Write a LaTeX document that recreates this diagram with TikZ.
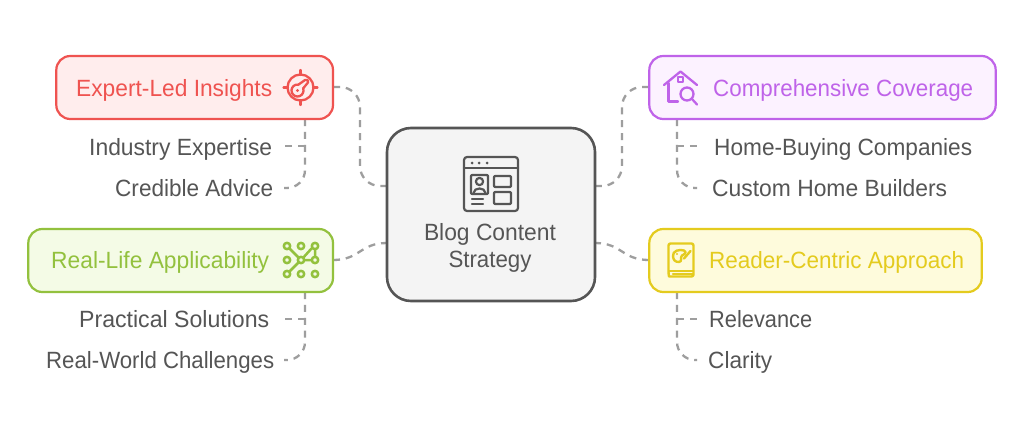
\documentclass[tikz,border=0pt]{standalone}
\usepackage{fontspec}
\usepackage{graphicx}
\setmainfont{Liberation Sans}
\definecolor{cred}{HTML}{EF5350}\definecolor{fred}{HTML}{FFEDED}
\definecolor{cpur}{HTML}{BF63E9}\definecolor{fpur}{HTML}{FCF2FF}
\definecolor{cgrn}{HTML}{93C13E}\definecolor{fgrn}{HTML}{F4FBE6}
\definecolor{cyel}{HTML}{E4CB1E}\definecolor{fyel}{HTML}{FEFBDC}
\definecolor{ctxt}{HTML}{555555}\definecolor{cdash}{HTML}{9E9E9E}
\newcommand{\fitw}[2]{\resizebox{#1pt}{\height}{#2}}
\tikzset{
 x=1pt,y=-1pt,
 boxnode/.style={draw=#1,line width=2.2pt,rounded corners=14pt,inner sep=0pt},
 lab/.style={anchor=base west,inner sep=0pt,text=#1,font=\fontsize{23.5}{27}\selectfont},
 sublab/.style={anchor=base west,inner sep=0pt,text=ctxt,font=\fontsize{23.5}{27}\selectfont},
 conn/.style={draw=cdash,line width=2.3pt,dash pattern=on 7pt off 5.9pt},
 ic/.style={line width=#1,line cap=round,line join=round},
 ic/.default=2.3pt,
}
\begin{document}
\begin{tikzpicture}
\useasboundingbox (0,0) rectangle (1024,431);
\fill[white] (0,0) rectangle (1024,431);
% connectors first
\coordinate (rs) at (333,87);\coordinate (cl1) at (387,186);
\coordinate (gs) at (333,260);\coordinate (cl2) at (387,243);
\coordinate (ps) at (649,87);\coordinate (cr1) at (595,186);
\coordinate (ys) at (649,260);\coordinate (cr2) at (595,243);
\draw[conn,rounded corners=20pt] (rs) -- (360,87) -- (360,186) -- (cl1);
\draw[conn,rounded corners=20pt] (ps) -- (622,87) -- (622,186) -- (cr1);
\draw[conn] (gs) .. controls (360,260) and (360,243) .. (cl2);
\draw[conn] (ys) .. controls (622,260) and (622,243) .. (cr2);
\coordinate (r1) at (284,146);\coordinate (r2) at (284,188);
\coordinate (g1) at (284,319);\coordinate (g2) at (284,360);
\coordinate (p1) at (697,146);\coordinate (p2) at (697,188);
\coordinate (y1) at (697,319);\coordinate (y2) at (697,360);
\draw[conn,rounded corners=18pt] (305,119) -- (305,188) -- (r2);
\draw[conn] (305,146) -- (r1);
\draw[conn,rounded corners=18pt] (305,292) -- (305,360) -- (g2);
\draw[conn] (305,319) -- (g1);
\draw[conn,rounded corners=18pt] (677,119) -- (677,188) -- (p2);
\draw[conn] (677,146) -- (p1);
\draw[conn,rounded corners=18pt] (677,292) -- (677,360) -- (y2);
\draw[conn] (677,319) -- (y1);
% boxes
\draw[boxnode=cred,fill=fred] (56.3,56) rectangle (333,119);
\draw[boxnode=cpur,fill=fpur] (649.3,56) rectangle (995.7,119);
\draw[boxnode=cgrn,fill=fgrn] (28.3,229) rectangle (333,292);
\draw[boxnode=cyel,fill=fyel] (649.3,229) rectangle (981.7,292);
\draw[draw=ctxt,line width=2.6pt,fill=black!4.5,rounded corners=24pt] (387,128) rectangle (595,301);
% labels
\node[lab=cred] (tred) at (76,96) {\fitw{196}{Expert-Led Insights}};
\node[lab=cpur] (tpur) at (713,96) {\fitw{260}{Comprehensive Coverage}};
\node[lab=cgrn] (tgrn) at (51,268) {\fitw{218}{Real-Life Applicability}};
\node[lab=cyel] (tyel) at (709,268) {\fitw{255}{Reader-Centric Approach}};
\node[sublab] (a1) at (89,155) {\fitw{183}{Industry Expertise}};
\node[sublab] (a2) at (115,196) {\fitw{158}{Credible Advice}};
\node[sublab] (b1) at (79,327) {\fitw{190}{Practical Solutions}};
\node[sublab] (b2) at (46,368) {\fitw{228}{Real-World Challenges}};
\node[sublab] (c1) at (714,155) {\fitw{258}{Home-Buying Companies}};
\node[sublab] (c2) at (712,196) {\fitw{235}{Custom Home Builders}};
\node[sublab] (d1) at (709,327) {\fitw{103}{Relevance}};
\node[sublab] (d2) at (708,368) {\fitw{64}{Clarity}};
\node[inner sep=0pt,text=ctxt,font=\fontsize{23.5}{27}\selectfont,align=center] (tc) at (490,248) {\fitw{132}{Blog Content}\\\fitw{83}{Strategy}};
% icon: centre
\begin{scope}[ctxt,ic=2.2pt]
\draw[rounded corners=3pt] (464,157) rectangle (518,211);
\draw (464,168) -- (518,168);
\fill (472,163) circle (1.5) (479,163) circle (1.5) (487,163) circle (1.5);
\draw[rounded corners=1pt] (471,175) rectangle (488,194);
\draw (479.5,181.5) circle (3.6);
\draw (473.5,193) .. controls (474,187) and (485,187) .. (485.5,193);
\draw[rounded corners=1pt] (494,176) rectangle (511,187);
\draw[rounded corners=1pt] (494,192) rectangle (511,204);
\draw (472,199) -- (483,199) (472,204) -- (483,204);
\end{scope}
% icon: target
\begin{scope}[cred,ic]
\draw (300.5,87.5) circle (13);
\draw (297.5,90.5) ++(-20:6) arc (-20:280:6);
\fill (297.5,90.5) circle (1.7);
\draw (298.5,84.6) -- (305,80) .. controls (307,78.5) and (309,80.5) .. (308,82.5) -- (303.1,88.45);
\draw (300.5,70) -- (300.5,75) (300.5,100) -- (300.5,105) (283.5,87.5) -- (288,87.5) (313,87.5) -- (317.5,87.5);
\end{scope}
% icon: house
\begin{scope}[cpur,ic]
\draw (664,85) -- (680.5,71.5) -- (697,85);
\draw (668.5,83) -- (668.5,101.5) -- (678,101.5);
\draw[line width=1.9pt] (678,77) rectangle (683,82);
\draw (687,94) circle (6.5);
\draw (692,99) -- (697,104.5);
\end{scope}
% icon: network
\begin{scope}[cgrn,ic=2.5pt]
\foreach \px in {287,301,315} \foreach \py in {246,260,274} \draw (\px,\py) circle (3.2);
\draw (289.5,248.5) -- (298.5,257.5) (298.7,262.3) -- (289.3,271.7) (304.2,260) -- (311.8,260) (315,249.2) -- (315,256.8) (303.2,257.7) -- (311.8,248.2);
\end{scope}
% icon: book
\begin{scope}[cyel,ic=2.4pt]
\draw[rounded corners=2pt] (668.5,272) -- (668.5,243.5) -- (693.5,243.5) -- (693.5,276.5) -- (671,276.5) .. controls (669,276.5) and (668.5,274) .. (668.5,272);
\draw (669,271) -- (693,271);
\draw (673,273.8) -- (693,273.8);
\draw (673,256.5) .. controls (672,250.5) and (680,249) .. (684,250.5) .. controls (688,252.5) and (683,255) .. (682,255.5) .. controls (680,257) and (682.5,262) .. (679,262) .. controls (675,262) and (673.5,260) .. (673,256.5);
\draw (684,258.5) -- (690.5,251);
\fill (677,254) circle (1.1);
\end{scope}
\end{tikzpicture}
\end{document}
